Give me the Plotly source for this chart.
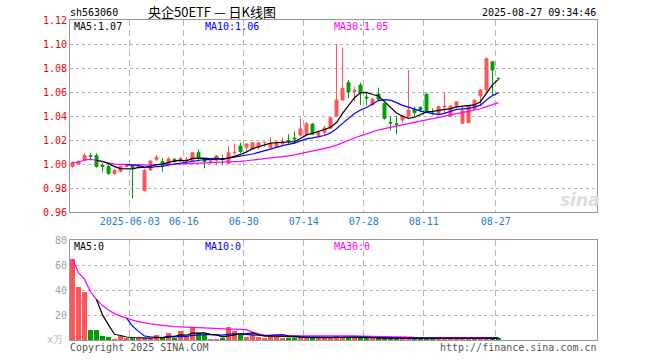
import pandas as pd
import plotly.graph_objects as go

# ---------------- data ----------------
dates = [d.strftime("%Y-%m-%d") for d in pd.bdate_range("2025-05-19", "2025-08-27")
         if d.strftime("%Y-%m-%d") != "2025-06-02"]

open_ = [0.998, 1.000, 1.003, 1.007, 1.007, 0.999, 0.998, 0.992, 0.994, 0.998,
         0.9985, 0.997, 0.978, 0.995, 1.004, 1.002, 1.0006, 1.004, 1.0028, 1.003,
         1.0025, 1.0094, 1.004, 1.0018, 1.0033, 1.0045, 1.0006, 1.0094, 1.015, 1.014,
         1.0122, 1.0139, 1.0178, 1.0139, 1.0144, 1.017, 1.0195, 1.0215, 1.0242, 1.0247,
         1.0333, 1.024, 1.026, 1.0297, 1.040, 1.0533, 1.0678, 1.0605, 1.0658, 1.0558,
         1.0492, 1.0583, 1.0506, 1.0347, 1.0335, 1.0367, 1.040, 1.0456, 1.0472, 1.0583,
         1.0425, 1.0422, 1.0475, 1.040, 1.0483, 1.0339, 1.0344, 1.0456, 1.0567, 1.0617,
         1.0853, 1.0715]
high = [1.002, 1.003, 1.009, 1.009, 1.009, 1.001, 0.999, 0.996, 0.999, 1.000,
        0.999, 0.999, 0.996, 1.003, 1.0075, 1.0047, 1.006, 1.0047, 1.006, 1.006,
        1.010, 1.012, 1.005, 1.0033, 1.0075, 1.0075, 1.015, 1.017, 1.0178, 1.0167,
        1.0178, 1.0178, 1.0185, 1.0225, 1.019, 1.022, 1.025, 1.027, 1.0386, 1.035,
        1.034, 1.028, 1.032, 1.039, 1.100, 1.097, 1.070, 1.0644, 1.0678, 1.059,
        1.055, 1.0636, 1.051, 1.040, 1.040, 1.041, 1.0783, 1.0478, 1.048, 1.0583,
        1.0464, 1.048, 1.060, 1.049, 1.052, 1.0478, 1.049, 1.0533, 1.0625, 1.0885,
        1.0855, 1.0716]
low = [0.997, 0.999, 1.003, 1.003, 0.997, 0.9935, 0.991, 0.991, 0.993, 0.997,
       0.9712, 0.996, 0.977, 0.994, 1.0025, 0.9936, 0.998, 1.001, 1.002, 1.001,
       1.002, 1.002, 0.9964, 1.000, 0.999, 0.999, 1.000, 1.0075, 1.009, 1.009,
       1.012, 1.012, 1.014, 1.013, 1.014, 1.016, 1.016, 1.017, 1.0228, 1.024,
       1.024, 1.022, 1.024, 1.029, 1.039, 1.053, 1.0547, 1.052, 1.049, 1.049,
       1.049, 1.053, 1.037, 1.028, 1.0245, 1.0344, 1.039, 1.040, 1.043, 1.0444,
       1.0405, 1.042, 1.042, 1.039, 1.047, 1.0333, 1.034, 1.0456, 1.049, 1.060,
       1.0575, 1.0705]
close = [1.001, 1.002, 1.007, 1.0065, 0.998, 0.998, 0.992, 0.9945, 0.998, 0.9985,
         0.997, 0.998, 0.9945, 1.0025, 1.0055, 0.999, 1.0042, 1.002, 1.0045, 1.0035,
         1.0094, 1.0047, 1.002, 1.0022, 1.0067, 1.004, 1.0094, 1.0097, 1.0103, 1.0167,
         1.0178, 1.0178, 1.018, 1.0167, 1.0183, 1.0185, 1.019, 1.021, 1.0292, 1.0335,
         1.025, 1.026, 1.030, 1.0386, 1.0533, 1.063, 1.060, 1.0615, 1.059, 1.055,
         1.0539, 1.054, 1.038, 1.034, 1.033, 1.040, 1.045, 1.0428, 1.045, 1.0444,
         1.042, 1.0478, 1.048, 1.0483, 1.0519, 1.0444, 1.0483, 1.0533, 1.0617, 1.088,
         1.0783, 1.0713]
volume = [65, 42.5, 38.5, 8, 8, 3.3, 2.5, 1.0, 3.2, 1.9,
          1.5, 1.3, 1.4, 1.8, 4.0, 1.3, 5.9, 1.9, 7.4, 2.7,
          9.3, 5.6, 3.8, 0.9, 0.9, 1.3, 10.5, 7.5, 4.0, 2.7,
          3.8, 2.7, 2.0, 4.0, 3.5, 2.0, 2.0, 2.0, 2.0, 2.0,
          2.7, 1.3, 1.3, 2.0, 3.2, 2.7, 2.7, 1.5, 1.5, 1.5,
          1.3, 1.5, 1.8, 1.5, 1.3, 1.5, 1.8, 1.3, 1.3, 1.8,
          1.3, 1.3, 1.5, 1.3, 1.3, 1.5, 1.5, 1.3, 1.5, 1.8,
          1.8, 1.3]
tick_labels = ["2025-06-03", "06-16", "06-30", "07-14", "07-28", "08-11", "08-27"]
tick_dates = ["2025-06-03", "2025-06-16", "2025-06-30", "2025-07-14",
              "2025-07-28", "2025-08-11", "2025-08-27"]

# ---------------- derived ----------------
idx = list(range(len(dates)))
c = pd.Series(close)
v = pd.Series(volume)
ma5, ma10, ma30 = c.rolling(5).mean(), c.rolling(10).mean(), c.rolling(30, min_periods=1).mean()
vma5, vma10, vma30 = v.rolling(5).mean(), v.rolling(10).mean(), v.rolling(30, min_periods=1).mean()

RED = "#ff5555"
GREEN = "#00a000"
vcolors = [RED if cl > op else GREEN for op, cl in zip(open_, close)]
tickvals = [dates.index(d) - 0.45 for d in tick_dates]

MONO = "DejaVu Sans Mono"

fig = go.Figure()
fig.add_trace(go.Candlestick(
    x=idx, open=open_, high=high, low=low, close=close,
    increasing=dict(line=dict(color=RED, width=1), fillcolor=RED),
    decreasing=dict(line=dict(color=GREEN, width=1), fillcolor=GREEN),
    whiskerwidth=0, xaxis="x", yaxis="y", showlegend=False))
for s, col in ((ma30, "#ff00ff"), (ma10, "#0000ff"), (ma5, "#000000")):
    fig.add_trace(go.Scatter(x=idx, y=s, mode="lines", line=dict(color=col, width=1.2),
                             xaxis="x", yaxis="y", showlegend=False))

fig.add_trace(go.Bar(x=idx, y=volume, marker=dict(color=vcolors, line=dict(width=0)),
                     width=0.8, xaxis="x2", yaxis="y2", showlegend=False))
for s, col in ((vma30, "#ff00ff"), (vma10, "#0000ff"), (vma5, "#000000")):
    fig.add_trace(go.Scatter(x=idx, y=s, mode="lines", line=dict(color=col, width=1.2),
                             xaxis="x2", yaxis="y2", showlegend=False))

L, R, T, B = 70, 597, 20, 340
def px(x):
    return (x - L) / (R - L)
def py(y):
    return (B - y) / (B - T)

xr = [-0.42, 87.42]
axis_common = dict(showline=True, mirror=True, linecolor="#999999", linewidth=1,
                   zeroline=False, ticks="")
fig.update_layout(
    width=660, height=360, autosize=False,
    margin=dict(l=L, r=660 - R, t=T, b=360 - B, pad=0),
    paper_bgcolor="white", plot_bgcolor="white",
    bargap=0, hovermode=False,
    xaxis=dict(domain=[0, 1], range=xr, anchor="y", tickvals=tickvals, ticktext=tick_labels,
               tickfont=dict(family=MONO, size=10, color="#1a80d8"),
               showgrid=True, gridcolor="#b4b4b4", griddash="6px,4px", gridwidth=1,
               rangeslider=dict(visible=False), **axis_common),
    yaxis=dict(domain=[py(212), 1], range=[0.96, 1.12], anchor="x", dtick=0.02, tick0=0.96,
               tickformat=".2f", tickfont=dict(family=MONO, size=10, color="#ee0000"),
               showgrid=True, gridcolor="#b4b4b4", griddash="dot", gridwidth=1,
               **axis_common),
    xaxis2=dict(domain=[0, 1], range=xr, anchor="y2", matches="x", tickvals=tickvals,
                showticklabels=False, showgrid=True, gridcolor="#b4b4b4",
                griddash="6px,4px", gridwidth=1, **axis_common),
    yaxis2=dict(domain=[0, py(240)], range=[0, 80], anchor="x2", tickvals=[20, 40, 60, 80],
                tickfont=dict(family=MONO, size=10, color="#a0a0a0"),
                showgrid=True, gridcolor="#b4b4b4", griddash="dot", gridwidth=1,
                **axis_common),
)

def ann(text, x, y, color="#000000", size=10, family=MONO, xanchor="left", **kw):
    fig.add_annotation(text=text, x=px(x), y=py(y), xref="paper", yref="paper",
                       showarrow=False, xanchor=xanchor, yanchor="middle", borderpad=0,
                       font=dict(family=family, size=size, color=color), **kw)

ann("sh563060", 69, 12)
ann("央企50ETF — 日K线图", 212, 11.5, size=13, family="Noto Sans CJK SC", xanchor="center")
ann("2025-08-27 09:34:46", 597, 12, xanchor="right")
ann("MA5:1.07", 73, 27)
ann("MA10:1.06", 204, 27, color="#0000ff")
ann("MA30:1.05", 333, 27, color="#ff00ff")
ann("MA5:0", 73, 246)
ann("MA10:0", 204, 246, color="#0000ff")
ann("MA30:0", 333, 246, color="#ff00ff")
ann("x万", 64, 339, color="#b8b8b8", size=10, xanchor="right")
ann("Copyright 2025 SINA.COM", 69, 347, color="#555555")
ann("http://finance.sina.com.cn", 598, 347, color="#555555", xanchor="right")
ann("<b><i>sina</i></b>", 580, 200, color="#dddddd", size=17, family="DejaVu Sans",
    xanchor="center")

fig.write_html("out.html", config={"displayModeBar": False, "staticPlot": True},
               post_script="document.body.style.margin='0';document.body.style.overflow='hidden';")
